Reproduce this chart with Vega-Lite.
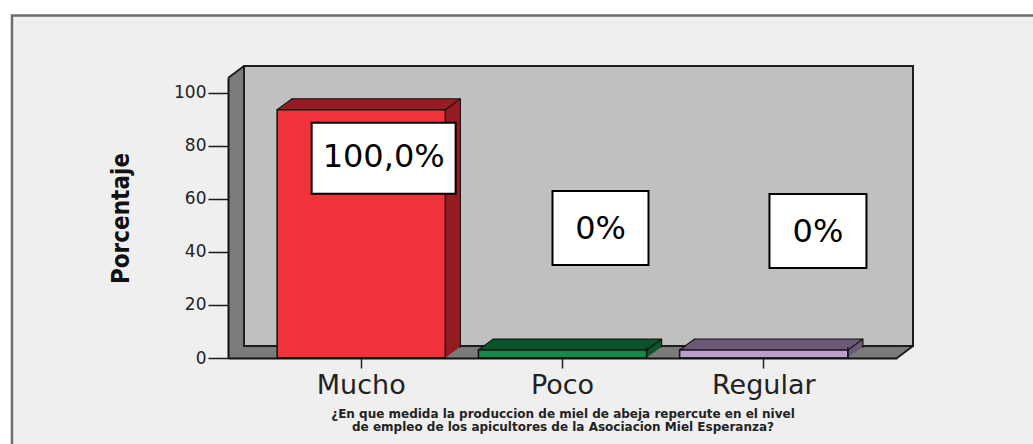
{
  "$schema": "https://vega.github.io/schema/vega-lite/v6.json",
  "width": 669,
  "height": 280,
  "autosize": "none",
  "padding": {"left": 228, "top": 78, "right": 136, "bottom": 86},
  "background": "#efefef",
  "config": {
    "view": {"stroke": null},
    "axis": {"grid": false},
    "axisY": {
      "tickSize": 20, "tickColor": "#1a1a1a", "tickWidth": 1.5,
      "domainColor": "#111111", "domainWidth": 2,
      "labelFont": "DejaVu Sans", "labelFontSize": 17, "labelColor": "#222222", "labelPadding": 2,
      "titleFont": "'Liberation Sans Narrow', 'DejaVu Sans Condensed', sans-serif", "titleFontSize": 24,
      "titleFontWeight": "bold", "titleColor": "#111111", "titlePadding": 40
    }
  },
  "datasets": {
    "respuestas": [
      {"respuesta": "Mucho", "porcentaje": 93.5, "etiqueta": "100,0%"},
      {"respuesta": "Poco", "porcentaje": 3, "etiqueta": "0%"},
      {"respuesta": "Regular", "porcentaje": 3, "etiqueta": "0%"}
    ],
    "marco": [{"elemento": "marco"}]
  },
  "resolve": {"scale": {"x": "independent"}},
  "layer": [
    {
      "data": {"name": "marco"},
      "encoding": {
        "x": {"datum": 0, "type": "quantitative", "scale": {"domain": [0, 1], "nice": false, "zero": false}, "axis": null},
        "x2": {"datum": 1},
        "y": {"datum": 0, "type": "quantitative", "scale": {"domain": [0, 105.5], "nice": false}},
        "y2": {"datum": 105.5}
      },
      "layer": [
        {"mark": {"type": "rect", "filled": false, "color": "#ffffff", "strokeWidth": 24},
         "encoding": {"x": {"datum": -0.3427, "type": "quantitative", "axis": null}, "x2": {"datum": 1.4}, "y": {"datum": -50, "type": "quantitative"}, "y2": {"datum": 134.04}}},
        {"mark": {"type": "rect", "filled": false, "color": "#6e6e6e", "strokeWidth": 2.5},
         "encoding": {"x": {"datum": -0.3229, "type": "quantitative", "axis": null}, "x2": {"datum": 1.3}, "y": {"datum": -40, "type": "quantitative"}, "y2": {"datum": 129.05}}},
        {"mark": {"type": "rect", "color": "#7b7b7b", "xOffset": 0, "x2Offset": 0, "yOffset": 0, "y2Offset": 0}},
        {"mark": {"type": "rect", "color": "#7b7b7b", "xOffset": 1, "x2Offset": 1, "yOffset": -0.75, "y2Offset": -0.75}},
        {"mark": {"type": "rect", "color": "#7b7b7b", "xOffset": 2, "x2Offset": 2, "yOffset": -1.5, "y2Offset": -1.5}},
        {"mark": {"type": "rect", "color": "#7b7b7b", "xOffset": 3, "x2Offset": 3, "yOffset": -2.25, "y2Offset": -2.25}},
        {"mark": {"type": "rect", "color": "#7b7b7b", "xOffset": 4, "x2Offset": 4, "yOffset": -3, "y2Offset": -3}},
        {"mark": {"type": "rect", "color": "#7b7b7b", "xOffset": 5, "x2Offset": 5, "yOffset": -3.75, "y2Offset": -3.75}},
        {"mark": {"type": "rect", "color": "#7b7b7b", "xOffset": 6, "x2Offset": 6, "yOffset": -4.5, "y2Offset": -4.5}},
        {"mark": {"type": "rect", "color": "#7b7b7b", "xOffset": 7, "x2Offset": 7, "yOffset": -5.25, "y2Offset": -5.25}},
        {"mark": {"type": "rect", "color": "#7b7b7b", "xOffset": 8, "x2Offset": 8, "yOffset": -6, "y2Offset": -6}},
        {"mark": {"type": "rect", "color": "#7b7b7b", "xOffset": 9, "x2Offset": 9, "yOffset": -6.75, "y2Offset": -6.75}},
        {"mark": {"type": "rect", "color": "#7b7b7b", "xOffset": 10, "x2Offset": 10, "yOffset": -7.5, "y2Offset": -7.5}},
        {"mark": {"type": "rect", "color": "#7b7b7b", "xOffset": 11, "x2Offset": 11, "yOffset": -8.25, "y2Offset": -8.25}},
        {"mark": {"type": "rect", "color": "#7b7b7b", "xOffset": 12, "x2Offset": 12, "yOffset": -9, "y2Offset": -9}},
        {"mark": {"type": "rect", "color": "#7b7b7b", "xOffset": 13, "x2Offset": 13, "yOffset": -9.75, "y2Offset": -9.75}},
        {"mark": {"type": "rect", "color": "#7b7b7b", "xOffset": 14, "x2Offset": 14, "yOffset": -10.5, "y2Offset": -10.5}},
        {"mark": {"type": "rect", "color": "#7b7b7b", "xOffset": 15, "x2Offset": 15, "yOffset": -11.25, "y2Offset": -11.25}},
        {"mark": {"type": "rect", "fill": "#c0c0c0", "stroke": "#1e1e1e", "strokeWidth": 2, "xOffset": 16, "x2Offset": 16, "yOffset": -12, "y2Offset": -12}},
        {"mark": {"type": "rule", "color": "#1e1e1e", "strokeWidth": 2, "x2Offset": 16, "y2Offset": -12},
         "encoding": {"x": {"datum": 0, "type": "quantitative", "axis": null}, "x2": {"datum": 0}, "y": {"datum": 105.5, "type": "quantitative"}, "y2": {"datum": 105.5}}},
        {"mark": {"type": "rule", "color": "#1e1e1e", "strokeWidth": 2, "x2Offset": 16, "y2Offset": -12},
         "encoding": {"x": {"datum": 1, "type": "quantitative", "axis": null}, "x2": {"datum": 1}, "y": {"datum": 0, "type": "quantitative"}, "y2": {"datum": 0}}}
      ]
    },
    {
      "data": {"name": "respuestas"},
      "encoding": {
        "x": {
          "field": "respuesta", "type": "nominal",
          "scale": {"domain": ["Mucho", "Poco", "Regular"], "paddingInner": 0.164, "paddingOuter": 0.244},
          "axis": {
            "title": ["¿En que medida la produccion de miel de abeja repercute en el nivel", "de empleo de los apicultores de la Asociacion Miel Esperanza?"],
            "zindex": 2,
            "labelAngle": 0, "tickSize": 10, "tickColor": "#222222", "tickWidth": 1.5,
            "domainColor": "#111111", "domainWidth": 2,
            "labelFont": "DejaVu Sans", "labelFontSize": 27, "labelColor": "#222222", "labelPadding": 4,
            "titleFont": "DejaVu Sans", "titleFontSize": 12, "titleFontWeight": "bold", "titleLineHeight": 13.5,
            "titleColor": "#222222", "titlePadding": 10
          }
        },
        "y": {
          "field": "porcentaje", "type": "quantitative",
          "scale": {"domain": [0, 105.5], "nice": false},
          "axis": {
            "title": "Porcentaje",
            "zindex": 2,
            "values": [0, 20, 40, 60, 80, 100],
            "tickSize": 20, "tickColor": "#1a1a1a", "tickWidth": 1.5,
            "domainColor": "#111111", "domainWidth": 2,
            "labelFont": "DejaVu Sans", "labelFontSize": 17, "labelColor": "#222222", "labelPadding": 2,
            "titleFont": "'Liberation Sans Narrow', 'DejaVu Sans Condensed', sans-serif", "titleFontSize": 24,
            "titleFontWeight": "bold", "titleColor": "#111111", "titlePadding": 40
          }
        }
      },
      "layer": [
        {
          "encoding": {
            "color": {
              "condition": [
                {"test": "datum.respuesta === 'Mucho'", "value": "#961c22"},
                {"test": "datum.respuesta === 'Poco'", "value": "#0b552c"}
              ],
              "value": "#6d5a77"
            }
          },
          "layer": [
            {"mark": {"type": "bar", "xOffset": 15, "yOffset": -11, "y2Offset": -11, "stroke": "#141414", "strokeWidth": 1.2}},
            {"mark": {"type": "bar", "xOffset": 14, "yOffset": -10.27, "y2Offset": -10.27}},
            {"mark": {"type": "bar", "xOffset": 13, "yOffset": -9.53, "y2Offset": -9.53}},
            {"mark": {"type": "bar", "xOffset": 12, "yOffset": -8.8, "y2Offset": -8.8}},
            {"mark": {"type": "bar", "xOffset": 11, "yOffset": -8.07, "y2Offset": -8.07}},
            {"mark": {"type": "bar", "xOffset": 10, "yOffset": -7.33, "y2Offset": -7.33}},
            {"mark": {"type": "bar", "xOffset": 9, "yOffset": -6.6, "y2Offset": -6.6}},
            {"mark": {"type": "bar", "xOffset": 8, "yOffset": -5.87, "y2Offset": -5.87}},
            {"mark": {"type": "bar", "xOffset": 7, "yOffset": -5.13, "y2Offset": -5.13}},
            {"mark": {"type": "bar", "xOffset": 6, "yOffset": -4.4, "y2Offset": -4.4}},
            {"mark": {"type": "bar", "xOffset": 5, "yOffset": -3.67, "y2Offset": -3.67}},
            {"mark": {"type": "bar", "xOffset": 4, "yOffset": -2.93, "y2Offset": -2.93}},
            {"mark": {"type": "bar", "xOffset": 3, "yOffset": -2.2, "y2Offset": -2.2}},
            {"mark": {"type": "bar", "xOffset": 2, "yOffset": -1.47, "y2Offset": -1.47}},
            {"mark": {"type": "bar", "xOffset": 1, "yOffset": -0.73, "y2Offset": -0.73}}
          ]
        },
        {
          "mark": {"type": "bar", "stroke": "#141414", "strokeWidth": 1.5},
          "encoding": {
            "color": {
              "condition": [
                {"test": "datum.respuesta === 'Mucho'", "value": "#f0323a"},
                {"test": "datum.respuesta === 'Poco'", "value": "#138a47"}
              ],
              "value": "#b9a0cf"
            }
          }
        },
        {"mark": {"type": "rule", "color": "#141414", "strokeWidth": 1.2, "xOffset": -84.15, "x2Offset": -69.15, "y2Offset": -11},
         "encoding": {"x2": {"field": "respuesta"}, "y2": {"field": "porcentaje"}}},
        {"mark": {"type": "rule", "color": "#141414", "strokeWidth": 1.2, "xOffset": 84.15, "x2Offset": 99.15, "y2Offset": -11},
         "encoding": {"x2": {"field": "respuesta"}, "y2": {"field": "porcentaje"}}},
        {"mark": {"type": "rule", "color": "#141414", "strokeWidth": 1.2, "xOffset": 84.15, "x2Offset": 99.15, "y2Offset": -11},
         "encoding": {"y": {"datum": 0, "type": "quantitative"}, "y2": {"datum": 0}}},
        {
          "transform": [{"filter": "datum.respuesta === 'Mucho'"}],
          "layer": [
            {"mark": {"type": "point", "shape": "M-72,-35.5L72,-35.5L72,35.5L-72,35.5Z", "size": 4, "filled": true, "fill": "#ffffff", "stroke": "#000000", "strokeWidth": 2, "opacity": 1, "xOffset": 22.4, "yOffset": 48.5}},
            {"mark": {"type": "text", "font": "DejaVu Sans", "fontSize": 32, "color": "#000000", "align": "center", "baseline": "middle", "xOffset": 22.4, "yOffset": 47}, "encoding": {"text": {"field": "etiqueta"}}}
          ]
        },
        {
          "transform": [{"filter": "datum.respuesta === 'Poco'"}],
          "layer": [
            {"mark": {"type": "point", "shape": "M-48,-37L48,-37L48,37L-48,37Z", "size": 4, "filled": true, "fill": "#ffffff", "stroke": "#000000", "strokeWidth": 2, "opacity": 1, "xOffset": 38, "yOffset": -122}},
            {"mark": {"type": "text", "font": "DejaVu Sans", "fontSize": 32, "color": "#000000", "align": "center", "baseline": "middle", "xOffset": 38, "yOffset": -121}, "encoding": {"text": {"field": "etiqueta"}}}
          ]
        },
        {
          "transform": [{"filter": "datum.respuesta === 'Regular'"}],
          "layer": [
            {"mark": {"type": "point", "shape": "M-48.5,-37L48.5,-37L48.5,37L-48.5,37Z", "size": 4, "filled": true, "fill": "#ffffff", "stroke": "#000000", "strokeWidth": 2, "opacity": 1, "xOffset": 54.2, "yOffset": -119}},
            {"mark": {"type": "text", "font": "DejaVu Sans", "fontSize": 32, "color": "#000000", "align": "center", "baseline": "middle", "xOffset": 54.2, "yOffset": -118}, "encoding": {"text": {"field": "etiqueta"}}}
          ]
        }
      ]
    }
  ]
}
